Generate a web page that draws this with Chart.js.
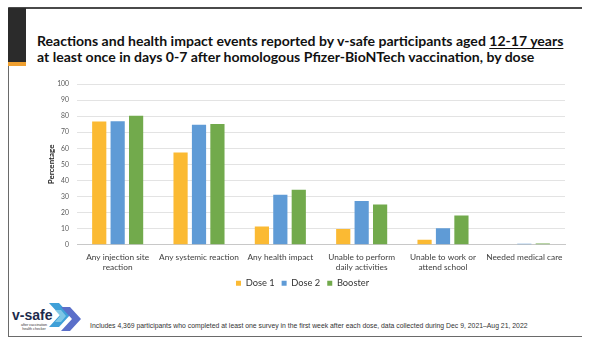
<!DOCTYPE html>
<html>
<head>
<meta charset="utf-8">
<script src="https://cdn.jsdelivr.net/npm/chart.js@4"></script>
<style>
  html, body { margin: 0; padding: 0; background: #fff; }
  body { width: 600px; height: 352px; position: relative; overflow: hidden; font-family: Lato, sans-serif; }
  .frame-top { position: absolute; left: 8px; top: 7px; width: 574px; height: 2px; background: #4a4a4a; }
  .frame-left { position: absolute; left: 8px; top: 7px; width: 1px; height: 330px; background: #6a6a6a; }
  .frame-bottom { position: absolute; left: 8px; top: 336px; width: 574px; height: 1px; background: #6a6a6a; }
  .dark-block { position: absolute; left: 8px; top: 8px; width: 18px; height: 54px; background: #2b2b2b; }
  .orange-block { position: absolute; left: 8px; top: 62px; width: 18px; height: 4px; background: #f0a030; }
  .title { position: absolute; left: 37px; top: 33px; font-weight: bold; font-size: 14.05px; line-height: 16px; color: #111; white-space: nowrap; }
  .title u { text-decoration-thickness: 1px; text-underline-offset: 2px; }
  .chart-box { position: absolute; left: 40px; top: 72px; width: 535px; height: 226px; }
  .footer { position: absolute; left: 90px; top: 322px; font-size: 6.85px; color: #333; white-space: nowrap; font-family: "Liberation Sans", sans-serif; }
  .logo { position: absolute; left: 11px; top: 300px; }
</style>
</head>
<body>
<div class="frame-top"></div>
<div class="frame-left"></div>
<div class="frame-bottom"></div>
<div class="dark-block"></div>
<div class="orange-block"></div>
<div class="title">Reactions and health impact events reported by v-safe participants aged <u>12-17 years</u><br>at least once in days 0-7 after homologous Pfizer-BioNTech vaccination, by dose</div>
<div class="chart-box"><canvas id="myChart" width="535" height="226"></canvas></div>
<svg class="logo" width="80" height="34" viewBox="0 0 80 34">
  <polygon points="38,3 48,3 59,15 48,27 38,27 49,15" fill="#3fa0d8"/>
  <polygon points="50,7 59,7 70,19 59,31 50,31 61,19" fill="#5b6fc9"/>
  <polygon points="44,10 50,10 55,16 50,22 44,22 49,16" fill="#8fd0e8" opacity="0.8"/>
  <text x="1" y="20" font-family="Liberation Sans, sans-serif" font-weight="bold" font-size="14" fill="#1d2b4c">v-safe</text>
  <text x="23" y="25.5" font-family="Liberation Sans, sans-serif" font-size="3.6" fill="#333" text-anchor="middle">after vaccination</text>
  <text x="23" y="29.5" font-family="Liberation Sans, sans-serif" font-size="3.6" fill="#333" text-anchor="middle">health checker</text>
</svg>
<div class="footer">Includes 4,369 participants who completed at least one survey in the first week after each dose, data collected during Dec 9, 2021–Aug 21, 2022</div>
<script>
const categories = [
  ["Any injection site", "reaction"],
  "Any systemic reaction",
  "Any health impact",
  ["Unable to perform", "daily activities"],
  ["Unable to work or", "attend school"],
  "Needed medical care"
];
const dose1 = [76.7, 57.4, 11.4, 9.8, 3.1, 0.3];
const dose2 = [76.8, 74.7, 31.1, 27.2, 10.2, 0.6];
const booster = [80.3, 75.1, 34.2, 25.1, 18.2, 0.8];
const yTicks = [0, 10, 20, 30, 40, 50, 60, 70, 80, 90, 100];

const ctx = document.getElementById('myChart').getContext('2d');

const data = {
  labels: categories,
  datasets: [
    { label: "Dose 1", data: dose1, backgroundColor: '#FBBA33' },
    { label: "Dose 2", data: dose2, backgroundColor: '#5F9BD6' },
    { label: "Booster", data: booster, backgroundColor: '#72AA4C' }
  ]
};

const myChart = new Chart(ctx, {
  type: 'bar',
  data: data,
  options: {
    responsive: false,
    animation: false,
    categoryPercentage: 0.68,
    barPercentage: 0.77,
    layout: { padding: { left: 0, right: 10, top: 0, bottom: 0 } },
    plugins: {
      legend: {
        position: 'bottom',
        labels: {
          boxWidth: 5, boxHeight: 5, padding: 7,
          color: '#333',
          font: { family: 'Lato, sans-serif', size: 9.3 }
        }
      },
      tooltip: { enabled: false }
    },
    scales: {
      x: {
        afterFit: (axis) => { axis.height = 27; },
        grid: { display: false, drawTicks: false },
        border: { color: '#c8c8c8' },
        ticks: {
          color: '#404040', maxRotation: 0, autoSkip: false, padding: 8,
          font: { family: 'Lato, sans-serif', size: 8.3 }
        }
      },
      y: {
        min: 0, max: 100,
        afterBuildTicks: (axis) => { axis.ticks = yTicks.map(v => ({ value: v })); },
        afterFit: (axis) => { axis.width = 37; },
        grid: { color: '#e3e3e3', drawTicks: false },
        border: { display: false },
        ticks: { color: '#595959', padding: 8, font: { family: 'Lato, sans-serif', size: 6.8 } },
        title: {
          display: true, text: 'Percentage', color: '#222',
          padding: { top: 7, bottom: 0 },
          font: { family: 'Lato, sans-serif', size: 8, weight: 'bold' }
        }
      }
    }
  }
});
</script>
</body>
</html>
